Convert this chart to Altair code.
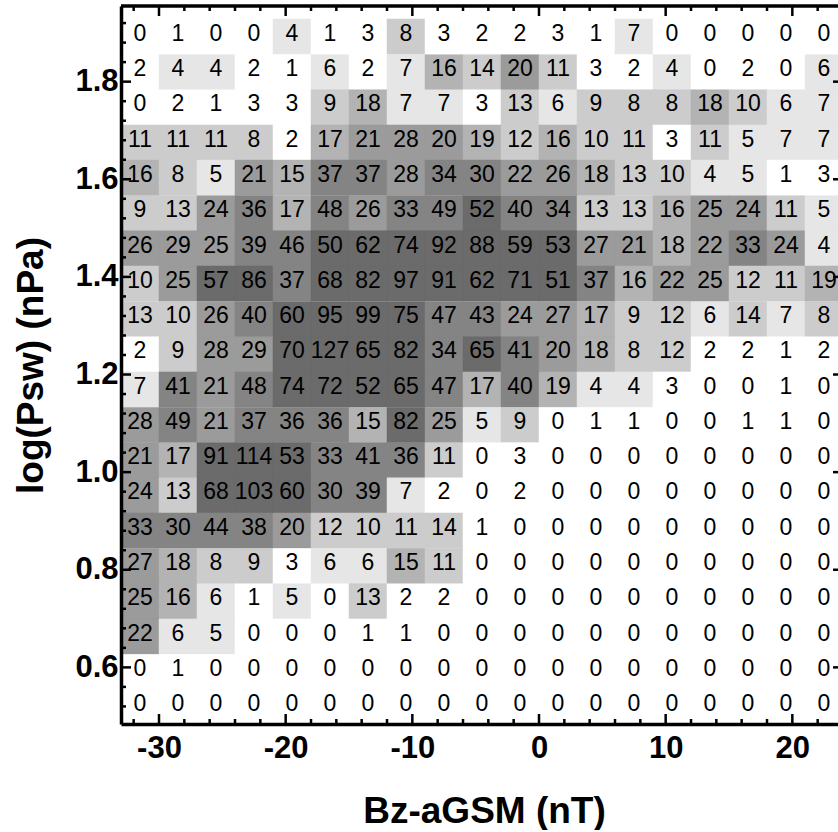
import altair as alt
import pandas as pd

# ---- data ----
bz_bin_start = [-33, -30, -27, -24, -21, -18, -15, -12, -9, -6, -3, 0, 3, 6, 9, 12, 15, 18, 21]
bz_bin_width = 3
# lower edges of the log(Psw) bins, top row first
logp_bin_start = [1.856, 1.783, 1.711, 1.639, 1.567, 1.494, 1.422, 1.350, 1.277, 1.205,
                  1.133, 1.060, 0.988, 0.916, 0.844, 0.771, 0.699, 0.627, 0.554, 0.482]
logp_bin_height = 0.0723

counts = [
    [0, 1, 0, 0, 4, 1, 3, 8, 3, 2, 2, 3, 1, 7, 0, 0, 0, 0, 0],
    [2, 4, 4, 2, 1, 6, 2, 7, 16, 14, 20, 11, 3, 2, 4, 0, 2, 0, 6],
    [0, 2, 1, 3, 3, 9, 18, 7, 7, 3, 13, 6, 9, 8, 8, 18, 10, 6, 7],
    [11, 11, 11, 8, 2, 17, 21, 28, 20, 19, 12, 16, 10, 11, 3, 11, 5, 7, 7],
    [16, 8, 5, 21, 15, 37, 37, 28, 34, 30, 22, 26, 18, 13, 10, 4, 5, 1, 3],
    [9, 13, 24, 36, 17, 48, 26, 33, 49, 52, 40, 34, 13, 13, 16, 25, 24, 11, 5],
    [26, 29, 25, 39, 46, 50, 62, 74, 92, 88, 59, 53, 27, 21, 18, 22, 33, 24, 4],
    [10, 25, 57, 86, 37, 68, 82, 97, 91, 62, 71, 51, 37, 16, 22, 25, 12, 11, 19],
    [13, 10, 26, 40, 60, 95, 99, 75, 47, 43, 24, 27, 17, 9, 12, 6, 14, 7, 8],
    [2, 9, 28, 29, 70, 127, 65, 82, 34, 65, 41, 20, 18, 8, 12, 2, 2, 1, 2],
    [7, 41, 21, 48, 74, 72, 52, 65, 47, 17, 40, 19, 4, 4, 3, 0, 0, 1, 0],
    [28, 49, 21, 37, 36, 36, 15, 82, 25, 5, 9, 0, 1, 1, 0, 0, 1, 1, 0],
    [21, 17, 91, 114, 53, 33, 41, 36, 11, 0, 3, 0, 0, 0, 0, 0, 0, 0, 0],
    [24, 13, 68, 103, 60, 30, 39, 7, 2, 0, 2, 0, 0, 0, 0, 0, 0, 0, 0],
    [33, 30, 44, 38, 20, 12, 10, 11, 14, 1, 0, 0, 0, 0, 0, 0, 0, 0, 0],
    [27, 18, 8, 9, 3, 6, 6, 15, 11, 0, 0, 0, 0, 0, 0, 0, 0, 0, 0],
    [25, 16, 6, 1, 5, 0, 13, 2, 2, 0, 0, 0, 0, 0, 0, 0, 0, 0, 0],
    [22, 6, 5, 0, 0, 0, 1, 1, 0, 0, 0, 0, 0, 0, 0, 0, 0, 0, 0],
    [0, 1, 0, 0, 0, 0, 0, 0, 0, 0, 0, 0, 0, 0, 0, 0, 0, 0, 0],
    [0, 0, 0, 0, 0, 0, 0, 0, 0, 0, 0, 0, 0, 0, 0, 0, 0, 0, 0],
]

x_major = [-30, -20, -10, 0, 10, 20]
x_minor = [-32, -28, -26, -24, -22, -18, -16, -14, -12, -8, -6, -4, -2,
           2, 4, 6, 8, 12, 14, 16, 18, 22]
y_major = [0.6, 0.8, 1.0, 1.2, 1.4, 1.6, 1.8]
y_minor = [0.52, 0.56, 0.64, 0.68, 0.72, 0.76, 0.84, 0.88, 0.92, 0.96,
           1.04, 1.08, 1.12, 1.16, 1.24, 1.28, 1.32, 1.36, 1.44, 1.48,
           1.52, 1.56, 1.64, 1.68, 1.72, 1.76, 1.84, 1.88, 1.92]

count_thresholds = [4, 8, 15, 20, 30, 50]
gray_levels = ["#ffffff", "#e6e6e6", "#cccccc", "#b3b3b3", "#9b9b9b", "#848484", "#6b6b6b"]

# ---- table ----
recs = []
for r, y0 in enumerate(logp_bin_start):
    for c, x0 in enumerate(bz_bin_start):
        recs.append({
            "bz": x0, "bz1": x0 + bz_bin_width, "bzc": x0 + bz_bin_width / 2,
            "lp": y0, "lp1": y0 + logp_bin_height, "lpc": y0 + logp_bin_height / 2,
            "n": counts[r][c],
        })
df = pd.DataFrame(recs)

W, H = 717, 718
FULL_W = 722  # plot frame extends slightly past the window edge
FONT = "Liberation Sans"

xs = alt.Scale(domain=[-33, 23.605], nice=False, zero=False)
ys = alt.Scale(domain=[0.484, 1.955], nice=False, zero=False)
cscale = alt.Scale(type="threshold", domain=count_thresholds, range=gray_levels)

x_axis = alt.Axis(
    values=x_major, labelExpr="'' + datum.value", title="Bz-aGSM (nT)",
    labelFont=FONT, labelFontSize=31, labelFontWeight="bold", labelColor="black",
    labelPadding=9, labelFlush=False, labelOverlap=False,
    ticks=False, tickSize=0, grid=False, domainColor="black", domainWidth=3.5,
    titleFont=FONT, titleFontSize=37, titleFontWeight="bold", titleColor="black",
    titleBaseline="alphabetic", titleY=98, titleX=363, zindex=1,
)
y_axis = alt.Axis(
    values=y_major, format=".1f", title="log(Psw) (nPa)",
    labelFont=FONT, labelFontSize=31, labelFontWeight="bold", labelColor="black",
    labelPadding=3, labelFlush=False, labelOverlap=False,
    ticks=False, tickSize=0, grid=False, domainColor="black", domainWidth=3.5,
    titleFont=FONT, titleFontSize=37, titleFontWeight="bold", titleColor="black",
    titleAngle=270, titleBaseline="alphabetic", titleAlign="center",
    titleX=-79, titleY=359, zindex=1,
)

def X(field):
    return alt.X(field, type="quantitative", scale=xs, axis=x_axis)

def Y(field):
    return alt.Y(field, type="quantitative", scale=ys, axis=y_axis)

cells = alt.Chart(df).mark_rect(strokeWidth=0.5).encode(
    x=X("bz"), x2="bz1:Q",
    y=Y("lp"), y2="lp1:Q",
    color=alt.Color("n:Q", scale=cscale, legend=None),
    stroke=alt.Stroke("n:Q", scale=cscale, legend=None),
)

labels = alt.Chart(df).mark_text(
    font=FONT, fontSize=23, color="black", align="center", baseline="middle", dy=-3
).encode(
    x=X("bzc"),
    y=Y("lpc"),
    text=alt.Text("n:Q", format="d"),
)

def xticks(values, length, width):
    d = pd.DataFrame({"bz": values})
    bottom = alt.Chart(d).mark_rule(color="black", strokeWidth=width).encode(
        x=X("bz"), y=alt.value(H), y2=alt.value(H - length))
    top = alt.Chart(d).mark_rule(color="black", strokeWidth=width).encode(
        x=X("bz"), y=alt.value(0), y2=alt.value(length))
    return [bottom, top]

def yticks(values, length, width):
    d = pd.DataFrame({"lp": values})
    left = alt.Chart(d).mark_rule(color="black", strokeWidth=width).encode(
        y=Y("lp"), x=alt.value(0), x2=alt.value(length))
    right = alt.Chart(d).mark_rule(color="black", strokeWidth=width).encode(
        y=Y("lp"), x=alt.value(FULL_W), x2=alt.value(FULL_W - length))
    return [left, right]

frame_top = alt.Chart(pd.DataFrame({"k": [0]})).mark_rule(color="black", strokeWidth=3.5).encode(
    x=alt.value(0), x2=alt.value(FULL_W), y=alt.value(0))
frame_right = alt.Chart(pd.DataFrame({"k": [0]})).mark_rule(color="black", strokeWidth=3.5).encode(
    x=alt.value(FULL_W), y=alt.value(0), y2=alt.value(H))

layers = [cells, labels]
layers += xticks(x_minor, 5, 2.5) + xticks(x_major, 10, 2.5)
layers += yticks(y_minor, 5, 2.5) + yticks(y_major, 10, 2.5)
layers += [frame_top, frame_right]

chart = alt.layer(*layers).properties(
    width=W, height=H,
    autosize=alt.AutoSizeParams(type="none"),
    padding={"left": 121, "top": 6, "right": 0, "bottom": 106},
).configure_view(stroke="transparent")

chart.save("out.html", embed_options={"renderer": "svg", "actions": False})
